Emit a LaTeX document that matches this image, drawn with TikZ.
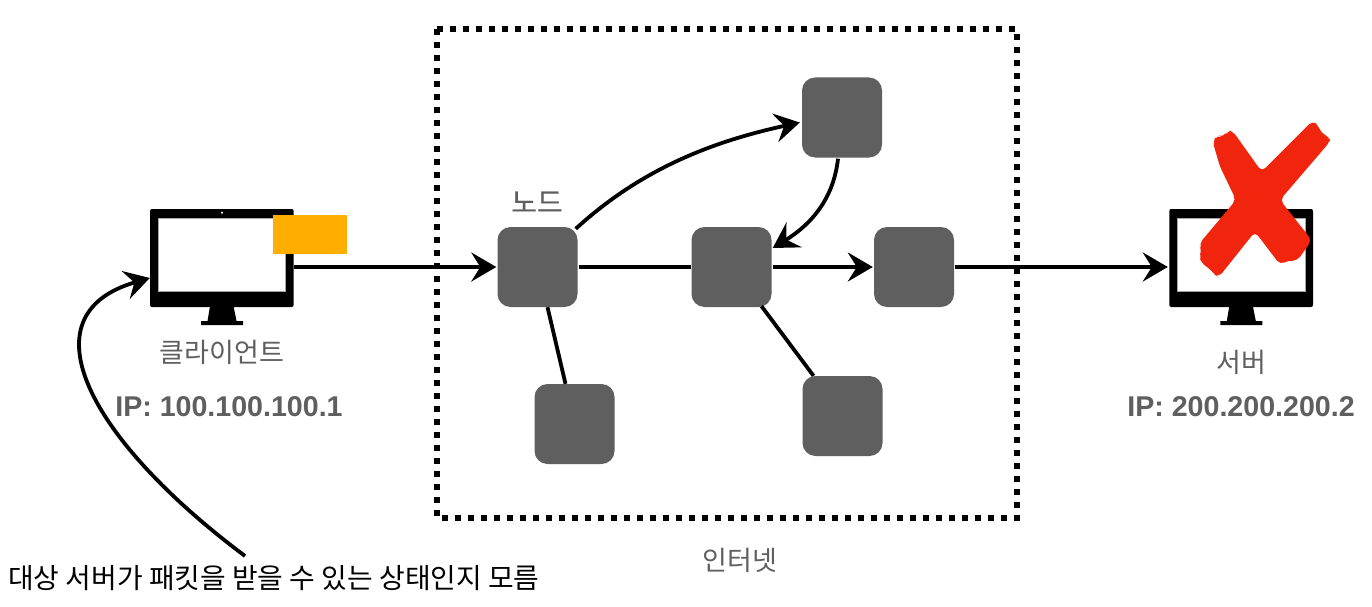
\documentclass[tikz,border=0pt]{standalone}
\usepackage{fontspec}
\setmainfont{Liberation Sans}
\newfontfamily\krfont{Noto Sans CJK KR}
\usetikzlibrary{arrows.meta}
\definecolor{nodegray}{HTML}{5F5F5F}
\definecolor{tagorange}{HTML}{FFAE00}
\definecolor{xred}{HTML}{F1250E}
\tikzset{
  x=1pt,y=-1pt,
  netnode/.style={draw=none,fill=nodegray,rounded corners=13pt,minimum width=80pt,minimum height=80pt,inner sep=0pt},
  monitorbox/.style={draw=none,minimum width=144pt,minimum height=98pt,inner sep=0pt},
  sketch/.style={line width=3.8pt,black},
  tip/.style={-{Stealth[length=25pt,width=29pt,inset=9pt]}},
  graytext/.style={text=nodegray,inner sep=0pt,font=\krfont\fontsize{27}{27}\selectfont},
  iptext/.style={text=nodegray,inner sep=0pt,font=\bfseries\fontsize{28.6}{28.6}\selectfont},
}
\newcommand{\drawmonitor}[1]{%
  \fill[black,rounded corners=2pt] (#1+150,209) rectangle (#1+293.7,307);
  \fill[white,draw=black!35,line width=.6pt] (#1+158,218) rectangle (#1+285.7,291);
  \fill[white] (#1+222,212.7) circle (1.2);
  \fill[black] (#1+210,306) -- (#1+233.5,306) -- (#1+236.5,321) -- (#1+243,321) -- (#1+243,325) -- (#1+201,325) -- (#1+201,321) -- (#1+207.5,321) -- cycle;
}
\begin{document}
\begin{tikzpicture}
\useasboundingbox (0,0) rectangle (1372,607);
\fill[white] (0,0) rectangle (1372,607);
% internet frame
\draw[black,line width=6pt,dash pattern=on 6pt off 7pt] (437,29) rectangle (1017,518);
% monitors
\drawmonitor{0}
\drawmonitor{1019.3}
\node[monitorbox] (client) at (222,258) {};
\node[monitorbox] (server) at (1241,258) {};
\fill[tagorange] (273,215) rectangle (347,254);
% red cross
\begin{scope}[shift={(1130,100)},x=.3333pt,y=-.3333pt]
\fill[xred,rounded corners=5pt] (248,125) -- (262,105) -- (280,112) -- (292,93) -- (308,93) -- (395,215) -- (548,62) -- (565,76) -- (572,98) -- (600,112) -- (600,125) -- (450,300) -- (545,420) -- (525,450) -- (500,484) -- (480,480) -- (450,494) -- (375,395) -- (266,532) -- (255,525) -- (240,507) -- (215,490) -- (208,470) -- (215,450) -- (207,432) -- (318,300) -- (270,200) -- cycle;
\end{scope}
% nodes
\node[netnode] (n1) at (537.5,267) {};
\node[netnode] (n2) at (731.5,267) {};
\node[netnode] (n3) at (914,267) {};
\node[netnode] (top) at (842,117.5) {};
\node[netnode] (bl) at (574.5,424) {};
\node[netnode] (br) at (842.5,416) {};
% labels
\node[graytext] at (222,352) {클라이언트};
\node[iptext] at (229,407) {IP: 100.100.100.1};
\node[graytext] at (1241,362) {서버};
\node[iptext] at (1241,407) {IP: 200.200.200.2};
\node[graytext,font=\krfont\fontsize{28}{28}\selectfont\addfontfeature{FakeBold=0.6}] at (537,202) {노드};
\node[graytext] at (740,560) {인터넷};
\node[inner sep=0pt,anchor=west,font=\krfont\fontsize{27.9}{28}\selectfont] (note) at (8,578) {대상 서버가 패킷을 받을 수 있는 상태인지 모름};
\coordinate (noteend) at (245,556);
% connectors
\draw[tip,sketch] (client.east |- n1) -- ([xshift=-1pt]n1.west);
\draw[sketch] ([xshift=1pt]n1.east) -- (n2.west);
\draw[tip,sketch] ([xshift=1pt]n2.east) -- ([xshift=-1pt]n3.west);
\draw[tip,sketch] ([xshift=1pt]n3.east) -- ([xshift=-1pt]server.west |- n3);
\draw[tip,sketch] (n1.north east)++(-2,2) .. controls (640,170) and (710,142) .. ([xshift=-2pt,yshift=-5pt]top.west);
\draw[tip,sketch] ([xshift=-4pt,yshift=-1pt]top.south) .. controls (834,195) and (815,222) .. ([xshift=1pt,yshift=19pt]n2.east);
\draw[sketch] ([xshift=10pt]n1.south) -- ([xshift=-9pt]bl.north);
\draw[sketch] ([xshift=30pt,yshift=1pt]n2.south) -- ([xshift=-29pt]br.north);
\draw[tip,sketch] (noteend) .. controls (90,440) and (22,315) .. ([yshift=-20pt]client.west);
\end{tikzpicture}
\end{document}
